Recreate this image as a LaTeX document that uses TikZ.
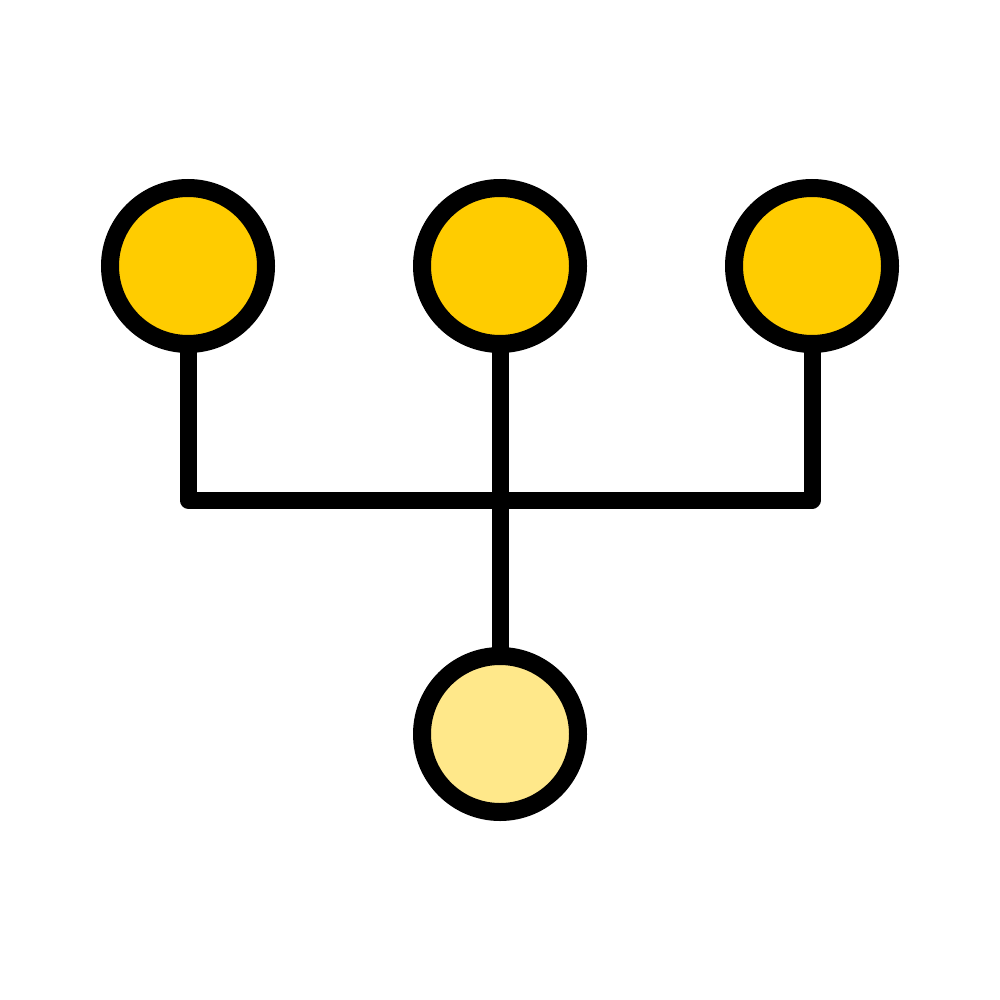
\documentclass[tikz,border=0pt]{standalone}
\begin{document}
\begin{tikzpicture}[x=1pt,y=-1pt,
  dot/.style={circle,draw=black,line width=18pt,inner sep=0pt,minimum size=156pt},
  topdot/.style={dot,fill=topyellow},
  botdot/.style={dot,fill=lightyellow},
  conn/.style={draw=black,line width=17pt,line join=round,line cap=round}]
\definecolor{topyellow}{HTML}{FFCC00}
\definecolor{lightyellow}{HTML}{FFE88A}
\useasboundingbox (0,0) rectangle (1000,1000);
\node[topdot] (a) at (188,266) {};
\node[topdot] (b) at (500,266) {};
\node[topdot] (c) at (812,266) {};
\node[botdot] (d) at (500,734) {};
\coordinate (jl) at (188,500);
\coordinate (jr) at (812,500);
\draw[conn] (a.south) -- (jl) -- (jr) -- (c.south);
\draw[conn] (b.south) -- (d.north);
\end{tikzpicture}
\end{document}
